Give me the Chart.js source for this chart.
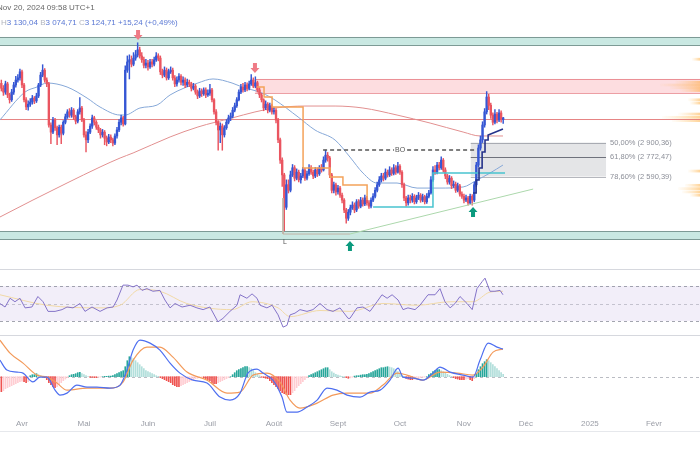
<!DOCTYPE html>
<html>
<head>
<meta charset="utf-8">
<script src="https://cdn.jsdelivr.net/npm/chart.js@4.4.0/dist/chart.umd.min.js"></script>
<style>
  body { margin: 0; width: 700px; height: 450px; background: #fff; overflow: hidden; position: relative;
         font-family: "Liberation Sans", Arial, sans-serif; }
  .pane { position: absolute; left: 0; width: 700px; }
  .sep { position: absolute; left: 0; width: 700px; height: 1px; background: #d6d8de; z-index: 5; }
  #h1 { position: absolute; top: 3px; left: -3px; font-size: 8px; color: #666; z-index: 6; }
  #h2 { position: absolute; top: 18px; left: 1px; font-size: 8px; color: #5a78d4; z-index: 6; white-space: pre; }
  #h2 span { color: #b3b6be; }
</style>
</head>
<body>
<div id="h1">Nov 20, 2024 09:58 UTC+1</div>
<div id="h2"><span>H</span>3 130,04 <span>B</span>3 074,71 <span>C</span>3 124,71 +15,24 (+0,49%)</div>
<div class="pane" style="top:0;height:269px"><canvas id="main"></canvas></div>
<div class="sep" style="top:269px"></div>
<div class="pane" style="top:270px;height:66px"><canvas id="rsi"></canvas></div>
<div class="sep" style="top:335px"></div>
<div class="pane" style="top:336px;height:114px"><canvas id="macd"></canvas></div>
<div class="sep" style="top:431px;background:#e6e8ec"></div>
<script>
// x values are days counted from 1 April 2024
const monthNames = ['Avr', 'Mai', 'Juin', 'Juil', 'Août', 'Sept', 'Oct', 'Nov', 'Déc', '2025', 'Févr'];
const monthDays = [0, 30, 61, 91, 122, 153, 183, 214, 244, 275, 306];
const xMin = -10.65, xMax = 328.3;

// daily candles, first one on 22 March
const firstDay = -10;
const firstOpen = 3440;
const closes = [
  3395,3360,3435,3335,3290,3360,3425,3470,3490,3545,
  3425,3290,3225,3250,3270,3305,3280,3325,3425,3515,
  3560,3470,3435,3060,2995,3105,3035,2970,3040,2985,
  3085,3135,3180,3150,3195,3135,3095,3180,3215,3105,
  2970,2925,2995,3050,3125,3085,3040,3015,2970,2995,
  2940,2905,2950,2925,2895,2960,3015,3085,3125,3070,
  3560,3635,3655,3615,3670,3700,3745,3690,3655,3605,
  3625,3590,3635,3615,3655,3690,3670,3545,3515,3560,
  3490,3545,3560,3490,3435,3470,3505,3450,3470,3425,
  3450,3435,3395,3415,3360,3325,3370,3345,3380,3335,
  3350,3380,3290,3180,3085,3015,3050,2970,3035,3085,
  3125,3140,3195,3235,3290,3360,3405,3380,3425,3395,
  3435,3470,3415,3445,3380,3335,3290,3215,3250,3195,
  3235,3180,3195,3105,2925,2740,2605,2310,2515,2465,
  2605,2670,2575,2630,2560,2595,2650,2575,2615,2670,
  2630,2595,2650,2615,2670,2650,2740,2785,2760,2605,
  2465,2515,2450,2485,2420,2375,2285,2210,2265,2305,
  2330,2285,2360,2320,2375,2340,2395,2350,2320,2375,
  2410,2465,2515,2560,2595,2575,2630,2605,2650,2620,
  2670,2630,2685,2630,2515,2395,2350,2395,2375,2410,
  2360,2395,2420,2375,2405,2360,2410,2440,2560,2650,
  2630,2695,2670,2740,2650,2595,2540,2575,2505,2520,
  2465,2505,2430,2410,2375,2395,2350,2410,2375,2515,
  2695,2850,2925,3060,3180,3315,3240,3150,3085,3160,
  3105,3170,3110,3125
];
const highs = [
  3470,3420,3460,3450,3350,3385,3450,3505,3520,3570,
  3560,3440,3310,3280,3300,3330,3320,3350,3440,3540,
  3610,3575,3490,3450,3080,3130,3120,3050,3060,3060,
  3100,3160,3200,3210,3220,3210,3150,3200,3310,3230,
  3120,3000,3020,3070,3150,3140,3100,3060,3030,3020,
  3010,2960,2975,2970,2940,2980,3040,3110,3150,3140,
  3600,3690,3700,3690,3720,3740,3810,3770,3720,3680,
  3660,3650,3660,3660,3680,3720,3710,3690,3570,3590,
  3580,3570,3590,3580,3510,3500,3530,3520,3500,3490,
  3480,3470,3450,3440,3430,3380,3395,3390,3400,3400,
  3380,3430,3395,3300,3200,3100,3080,3070,3055,3110,
  3150,3170,3220,3260,3310,3380,3430,3440,3450,3445,
  3460,3520,3490,3500,3460,3400,3350,3300,3280,3265,
  3260,3250,3220,3210,3120,2940,2760,2620,2560,2560,
  2640,2700,2690,2660,2650,2620,2675,2665,2640,2700,
  2690,2650,2675,2670,2690,2700,2770,2830,2810,2775,
  2620,2540,2530,2510,2500,2440,2390,2300,2290,2330,
  2360,2350,2380,2380,2400,2395,2420,2410,2370,2395,
  2435,2490,2540,2590,2620,2620,2660,2650,2680,2670,
  2700,2690,2720,2700,2645,2530,2410,2420,2420,2435,
  2425,2420,2445,2435,2430,2420,2435,2465,2590,2680,
  2690,2720,2720,2770,2755,2670,2610,2600,2590,2550,
  2540,2530,2520,2450,2430,2420,2410,2430,2425,2540,
  2720,2880,2960,3090,3210,3365,3340,3260,3170,3200,
  3175,3200,3190,3130
];
const lows = [
  3370,3330,3340,3310,3260,3275,3340,3405,3450,3470,
  3400,3270,3200,3195,3230,3250,3255,3265,3310,3410,
  3500,3450,3410,3040,2890,2980,3010,2880,2950,2890,
  2970,3070,3120,3130,3130,3110,3070,3080,3160,3090,
  2950,2815,2900,2980,3030,3060,3020,2990,2940,2950,
  2880,2870,2890,2900,2870,2880,2940,3000,3060,3050,
  3060,3540,3480,3590,3600,3650,3680,3670,3630,3580,
  3580,3560,3575,3590,3600,3640,3645,3520,3490,3500,
  3470,3475,3530,3470,3410,3415,3450,3425,3420,3400,
  3410,3410,3370,3380,3340,3300,3310,3320,3330,3310,
  3320,3330,3270,3160,3060,2830,2900,2830,2950,3020,
  3070,3100,3125,3180,3220,3280,3345,3360,3365,3370,
  3380,3420,3400,3400,3360,3310,3270,3190,3200,3170,
  3180,3160,3160,3080,2900,2710,2500,2095,2290,2440,
  2450,2590,2550,2560,2540,2530,2580,2555,2560,2600,
  2610,2570,2580,2590,2600,2630,2640,2720,2730,2580,
  2440,2440,2420,2430,2400,2350,2260,2165,2190,2240,
  2290,2260,2270,2300,2305,2320,2325,2330,2300,2305,
  2360,2395,2450,2500,2540,2550,2560,2585,2590,2600,
  2605,2610,2620,2610,2490,2370,2320,2330,2350,2355,
  2340,2345,2380,2355,2360,2340,2345,2395,2430,2545,
  2610,2615,2650,2655,2630,2570,2520,2520,2480,2490,
  2445,2450,2410,2390,2350,2360,2330,2340,2330,2360,
  2500,2680,2830,2900,3040,3160,3200,3120,3060,3070,
  3080,3090,3085,3075
];

// moving averages
const ma50Days = [-10.7,1.5,7.3,12.1,21.8,31.5,37.8,47.5,49.9,57.1,65.4,71.7,85.2,92.5,101.7,106.5,116.2,122.5,133.7,141.9,151.6,158.8,165.1,171.9,181.6,191.3,202.4,213.6,220.3,226.6,232.9];
const ma50Vals = [3106,3361,3407,3443,3407,3306,3224,3151,3151,3215,3242,3334,3443,3480,3443,3407,3352,3288,3133,3014,2923,2768,2622,2531,2531,2485,2485,2495,2558,2622,2695];
const ma200Days = [-10.7,5.3,21.8,37.8,47.5,53.8,71.7,85.2,101.7,112.8,122.5,137,151.6,165.1,181.6,197.6,213.6,221.8,232.9];
const ma200Vals = [2221,2376,2531,2677,2759,2805,2951,3042,3124,3179,3215,3233,3233,3215,3151,3078,2996,2960,2960];
const lastPrice = 3110;

// drawings
const tealBands = [[3863, 3790], [2093, 2020]];
const supplyZone = { from: 112.8, top: 3480, bottom: 3352 };
const fibStart = 217.3, fibEnd = 282.8;
const fibPct = ['50,00%', '61,80%', '78,60%'];
const fibPrices = [2900.36, 2772.47, 2590.39];
const fibText = ['2 900,36', '2 772,47', '2 590,39'];
const orangeDays = [113.8,117.2,117.2,121.1,121.1,136.1,136.1,149.2,149.2,155.4,155.4,167.1,167.1];
const orangeVals = [3407,3407,3315,3315,3224,3224,2668,2668,2586,2586,2513,2513,2376];
const cyanDays = [170, 199, 199, 233.9];
const cyanVals = [2312, 2312, 2622, 2622];
const navyDays = [218.4,219.9,219.9,221.3,221.3,222.8,222.8,224.2,224.2,225.7,225.7,232.9];
const navyVals = [2440,2440,2558,2558,2668,2668,2814,2814,2923,2923,2969,3024];
const trendDays = [158.8, 247.5];
const trendVals = [2066, 2476];
const boDays = [145.8, 220.3];
const boPrice = 2832;
const lowMarkDays = [126.4, 126.4, 158.8];
const lowMarkVals = [2394, 2066, 2066];
const sellSignals = [{ x: 56.2, y: 3835 }, { x: 112.8, y: 3534 }];
const buySignals = [{ x: 158.8, y: 2002 }, { x: 218.4, y: 2312 }];
const profilePrices = [3660, 3450, 3425, 3400, 3375, 3290, 3260, 3160, 3130, 3100, 2640, 2510, 2480, 2450, 2420];
const profileVolumes = [8, 25, 40, 30, 20, 12, 10, 22, 38, 28, 12, 15, 22, 18, 10];

// RSI
const rsiDays = [-10.7,-8.2,-5.8,-3.4,-1,1.5,4.8,7.7,10.2,12.6,16,19.4,21.8,24.7,28.1,30.5,33.9,37.8,41.2,44.1,46,48.9,51.3,53.8,55.7,58.1,60.5,63.4,66.8,69.2,71.7,74.1,77.5,81.4,84.7,87.7,91,94.9,97.3,100.7,104.1,105.6,108.9,111.4,113.8,115.3,118.6,121.1,124,126.4,128.3,129.8,132.2,134.6,138,140.9,144.3,147.7,150.6,154,157.9,158.8,162.2,165.1,168.5,171.9,174.3,176.8,179.2,182.1,184.5,186.9,190.3,192.7,196.6,200,202.4,204.8,207.3,209.7,212.1,215.5,218,220.3,222.8,224.2,226.6,229,231.5,232.9];
const rsiVals = [50,46,56,52,56,45,46,58,52,41,41,43,46,45,50,41,46,41,45,46,54,71,71,69,71,65,67,64,65,54,45,50,46,48,45,43,46,29,33,41,48,60,56,61,56,48,45,48,37,23,25,37,39,43,41,43,50,43,41,45,33,33,45,46,41,52,60,56,60,54,43,45,43,48,60,60,67,52,45,50,58,50,43,67,75,79,64,64,65,60];
const rsiMaDays = [-10.7,12.1,37.8,47.5,57.1,66.8,79.8,101.7,111.4,124,129.8,144.3,158.8,174.8,191.3,207.3,218.4,226.6,232.9];
const rsiMaVals = [60,48,45,48,66,64,50,43,52,45,35,42,41,50,48,52,52,63,64];

// MACD
const macdDays = [-10.7,-7.3,-2.4,0.5,5.3,8.7,12.1,16,18.4,21.8,26.6,31.5,36.3,42.6,47.5,50.8,53.8,57.1,62,66.8,71.7,76.5,82.8,89.6,95.9,100.7,105.6,109.4,113.8,116.7,121.5,125.9,128.3,133.2,138,142.9,147.7,152.5,157.4,163.7,168.5,173.4,178.2,182.1,184.5,189.3,194.2,199,202.4,207.3,213.6,218.4,221.8,225.7,230,232.9];
const macdVals = [83,33,23,18,-26,-2,-2,-67,-92,-82,-42,-52,-52,-57,-42,33,133,183,168,133,68,18,-17,-32,-102,-117,-82,18,38,18,-17,-102,-177,-177,-152,-117,-57,-67,-92,-102,-77,-67,-17,43,-2,-7,-17,18,48,23,8,-2,83,168,148,138];
const signalDays = [-10.7,-5.8,0.5,7.3,12.1,16.9,21.8,31.5,42.6,48.9,53.8,60.5,66.8,73.1,79.9,89.6,99.3,105.6,111.9,118.6,124.9,129.8,134.6,142.9,150.6,157.4,168.5,174.8,181.6,186.4,194.2,202.4,210.7,218.4,223.2,228.1,232.9];
const signalVals = [183,118,68,8,-2,-32,-67,-57,-57,-27,83,148,148,98,23,-17,-82,-77,8,18,-27,-117,-157,-132,-92,-82,-82,-42,18,8,-17,23,18,8,48,123,138];
const histVals = [
  -75,-70,-60,-55,-50,-45,-40,-35,-30,-25,
  -22,-25,-30,-25,
  5,10,10,15,10,5,0,-5,
  -15,-30,-40,-50,-55,-50,-40,
  -30,-20,-12,-5,
  5,10,12,15,20,22,15,10,5,
  0,-3,-3,-5,-5,-3,-2,0,2,2,3,3,5,
  10,15,20,25,30,
  50,80,100,95,90,
  80,70,60,50,40,30,
  25,20,15,10,5,2,
  -5,-10,-15,-20,-25,-30,-40,-45,-50,-50,-45,-40,-35,-30,-25,-20,-15,
  -10,-8,-5,-3,-5,-10,-15,-20,
  -30,-35,-35,-30,-25,-20,
  -15,-10,-5,0,
  10,20,30,35,40,45,50,50,45,40,
  30,20,12,5,
  -3,-5,-8,-10,
  -20,-30,-40,-50,-60,-70,-80,-85,-90,-90,-90,-80,-70,
  -55,-45,-35,-25,-15,-5,
  5,10,15,20,25,30,35,40,45,45,35,25,
  18,12,8,4,2,0,
  -5,-8,-6,-3,
  3,5,5,8,10,10,12,15,
  20,25,30,35,40,45,45,48,50,48,45,40,35,
  25,15,8,2,
  -8,-12,-15,-15,-12,-10,-8,
  -5,-3,-2,0,
  10,15,25,30,35,35,30,
  25,18,12,6,2,
  -5,-10,-12,-15,-15,-15,-12,-10,-15,
  -20,-10,
  15,35,50,65,75,85,80,
  70,60,50,40,30,20,12
];

const pts = (xs, ys) => xs.map((d, i) => ({ x: d, y: ys[i] }));
const days = closes.map((c, i) => firstDay + i);
const opens = closes.map((c, i) => (i ? closes[i - 1] : firstOpen));
const upCol = '#3556d4', downCol = '#ea5560';
const candleCols = closes.map((c, i) => (c >= opens[i] ? upCol : downCol));

function hline(ctx, x1, x2, y) {
  ctx.beginPath();
  ctx.moveTo(x1, Math.round(y) + 0.5);
  ctx.lineTo(x2, Math.round(y) + 0.5);
  ctx.stroke();
}

function baseOptions(yMin, yMax, showX) {
  const x = {
    type: 'linear', min: xMin, max: xMax, offset: false, display: showX,
    grid: { display: false, drawTicks: false }, border: { display: false }
  };
  if (showX) {
    x.afterBuildTicks = (s) => { s.ticks = monthDays.map(v => ({ value: v })); };
    x.afterFit = (s) => { s.height = 36; };
    x.ticks = {
      autoSkip: false, maxRotation: 0, padding: 5, color: '#9a9da6',
      font: { size: 8, family: '"Liberation Sans", Arial' },
      callback: (v, i) => monthNames[i]
    };
  }
  return {
    responsive: true,
    maintainAspectRatio: false,
    animation: false,
    layout: { padding: 0 },
    plugins: { legend: { display: false }, tooltip: { enabled: false } },
    scales: { x, y: { type: 'linear', min: yMin, max: yMax, display: false } }
  };
}

const lineSet = (data, color, width, order, extra) => Object.assign({
  type: 'line', data, borderColor: color, borderWidth: width, pointRadius: 0, fill: false, order
}, extra || {});

const mainDecor = {
  id: 'mainDecor',
  beforeDatasetsDraw(chart) {
    const { ctx, chartArea: a, scales: { x, y } } = chart;
    ctx.save();
    ctx.lineWidth = 1;
    tealBands.forEach(([top, bottom]) => {
      const y1 = y.getPixelForValue(top), y2 = y.getPixelForValue(bottom);
      ctx.fillStyle = 'rgba(178,222,213,0.7)';
      ctx.fillRect(a.left, y1, a.right - a.left, y2 - y1);
      ctx.strokeStyle = '#7d9a95';
      hline(ctx, a.left, a.right, y1);
      hline(ctx, a.left, a.right, y2);
    });
    // supply zone
    const zx = x.getPixelForValue(supplyZone.from);
    const zt = y.getPixelForValue(supplyZone.top), zb = y.getPixelForValue(supplyZone.bottom);
    ctx.fillStyle = 'rgba(242,54,69,0.17)';
    ctx.fillRect(zx, zt, a.right - zx, zb - zt);
    ctx.strokeStyle = 'rgba(220,80,90,0.55)';
    hline(ctx, zx, a.right, zt);
    hline(ctx, zx, a.right, zb);
    // fibonacci box
    const fx1 = x.getPixelForValue(fibStart), fx2 = x.getPixelForValue(fibEnd);
    const ft = y.getPixelForValue(fibPrices[0]), fb = y.getPixelForValue(fibPrices[2]);
    ctx.fillStyle = 'rgba(120,123,134,0.2)';
    ctx.fillRect(fx1, ft, fx2 - fx1, fb - ft);
    ctx.font = '7.5px "Liberation Sans", Arial';
    ctx.textBaseline = 'middle';
    fibPrices.forEach((p, i) => {
      const py = y.getPixelForValue(p);
      ctx.strokeStyle = i === 1 ? '#6f727c' : 'rgba(120,123,134,0.55)';
      hline(ctx, fx1, fx2, py);
      ctx.fillStyle = '#8c8f98';
      ctx.fillText(fibPct[i] + ' (' + fibText[i] + ')', fx2 + 4, py);
    });
    // volume profile
    const maxVol = Math.max(...profileVolumes);
    const rowH = Math.abs(y.getPixelForValue(0) - y.getPixelForValue(25));
    profilePrices.forEach((p, i) => {
      const len = profileVolumes[i] / maxVol * 40;
      const py = y.getPixelForValue(p);
      const g = ctx.createLinearGradient(a.right - len, 0, a.right, 0);
      g.addColorStop(0, 'rgba(255,190,90,0.03)');
      g.addColorStop(1, 'rgba(255,160,30,0.45)');
      ctx.fillStyle = g;
      ctx.fillRect(a.right - len, py - rowH / 2, len, rowH);
    });
    ctx.restore();
  },
  afterDatasetsDraw(chart) {
    const { ctx, scales: { x, y } } = chart;
    ctx.save();
    const arrow = (s, dir, color) => {
      const px = x.getPixelForValue(s.x), py = y.getPixelForValue(s.y);
      ctx.fillStyle = color;
      ctx.beginPath();
      ctx.moveTo(px, py);
      ctx.lineTo(px - 4.5, py - dir * 5);
      ctx.lineTo(px - 2, py - dir * 5);
      ctx.lineTo(px - 2, py - dir * 10);
      ctx.lineTo(px + 2, py - dir * 10);
      ctx.lineTo(px + 2, py - dir * 5);
      ctx.lineTo(px + 4.5, py - dir * 5);
      ctx.closePath();
      ctx.fill();
    };
    sellSignals.forEach(s => arrow(s, 1, '#ef7b86'));
    buySignals.forEach(s => arrow(s, -1, '#0b9a7e'));
    ctx.font = '7px "Liberation Sans", Arial';
    ctx.textAlign = 'center';
    ctx.textBaseline = 'middle';
    const bx = x.getPixelForValue((boDays[0] + boDays[1]) / 2), by = y.getPixelForValue(boPrice);
    ctx.fillStyle = '#fff';
    ctx.fillRect(bx - 6, by - 4, 12, 8);
    ctx.fillStyle = '#555';
    ctx.fillText('BO', bx, by);
    ctx.fillText('L', x.getPixelForValue(lowMarkDays[0]) + 2, y.getPixelForValue(lowMarkVals[1]) + 8);
    ctx.restore();
  }
};

new Chart(document.getElementById('main'), {
  type: 'bar',
  data: {
    datasets: [
      { type: 'bar', data: days.map((d, i) => ({ x: d, y: [lows[i], highs[i]] })), backgroundColor: candleCols,
        barThickness: 0.8, grouped: false, order: 3 },
      { type: 'bar', data: days.map((d, i) => ({ x: d, y: [opens[i], closes[i]] })), backgroundColor: candleCols,
        barThickness: 1.7, minBarLength: 1, grouped: false, order: 2 },
      lineSet(pts(ma50Days, ma50Vals), '#86a8d8', 1, 5, { cubicInterpolationMode: 'monotone' }),
      lineSet(pts(ma200Days, ma200Vals), '#e29090', 1, 5, { cubicInterpolationMode: 'monotone' }),
      lineSet([{ x: xMin, y: lastPrice }, { x: xMax, y: lastPrice }], 'rgba(226,110,110,0.85)', 1, 6),
      lineSet(pts(orangeDays, orangeVals), '#f4a25a', 1.5, 1),
      lineSet(pts(cyanDays, cyanVals), '#48c4cf', 1.5, 1),
      lineSet(pts(trendDays, trendVals), '#acd8ac', 1, 1),
      lineSet(pts(lowMarkDays, lowMarkVals), '#c2b3a6', 1, 1),
      lineSet(pts(boDays, [boPrice, boPrice]), '#555', 1.3, 1, { borderDash: [4, 3] }),
      lineSet(pts(navyDays, navyVals), '#25328a', 1.6, 0)
    ]
  },
  options: baseOptions(1747, 4200, false),
  plugins: [mainDecor]
});

const rsiDecor = {
  id: 'rsiDecor',
  beforeDatasetsDraw(chart) {
    const { ctx, chartArea: a, scales: { y } } = chart;
    ctx.save();
    const t = y.getPixelForValue(70), b = y.getPixelForValue(30);
    ctx.fillStyle = 'rgba(126,87,194,0.1)';
    ctx.fillRect(a.left, t, a.right - a.left, b - t);
    ctx.setLineDash([3, 3]);
    ctx.lineWidth = 1;
    [70, 50, 30].forEach(v => {
      ctx.strokeStyle = v === 50 ? 'rgba(140,143,155,0.45)' : 'rgba(140,143,155,0.8)';
      hline(ctx, a.left, a.right, y.getPixelForValue(v));
    });
    ctx.restore();
  }
};

new Chart(document.getElementById('rsi'), {
  type: 'line',
  data: {
    datasets: [
      lineSet(pts(rsiMaDays, rsiMaVals), '#f1d9a6', 1, 2, { cubicInterpolationMode: 'monotone' }),
      lineSet(pts(rsiDays, rsiVals), '#8473c8', 1, 1)
    ]
  },
  options: baseOptions(12.86, 88.29, false),
  plugins: [rsiDecor]
});

const histCols = histVals.map((v, i) => {
  const prev = i ? histVals[i - 1] : v;
  if (v >= 0) return v >= prev ? '#26a69a' : '#b2dfdb';
  return v <= prev ? '#ef5350' : '#ffcdd2';
});

const macdDecor = {
  id: 'macdDecor',
  beforeDatasetsDraw(chart) {
    const { ctx, chartArea: a, scales: { y } } = chart;
    ctx.save();
    ctx.setLineDash([3, 3]);
    ctx.strokeStyle = 'rgba(140,143,155,0.6)';
    ctx.lineWidth = 1;
    hline(ctx, a.left, a.right, y.getPixelForValue(0));
    ctx.restore();
  }
};

new Chart(document.getElementById('macd'), {
  type: 'bar',
  data: {
    datasets: [
      { type: 'bar', data: histVals.map((v, i) => ({ x: firstDay + i, y: v })), backgroundColor: histCols,
        barThickness: 1, grouped: false, order: 3 },
      lineSet(pts(signalDays, signalVals), '#f39a5a', 1.2, 2, { cubicInterpolationMode: 'monotone' }),
      lineSet(pts(macdDays, macdVals), '#4e6ff0', 1.2, 1, { cubicInterpolationMode: 'monotone' })
    ]
  },
  options: baseOptions(-186.5, 203.5, true),
  plugins: [macdDecor]
});
</script>
</body>
</html>
